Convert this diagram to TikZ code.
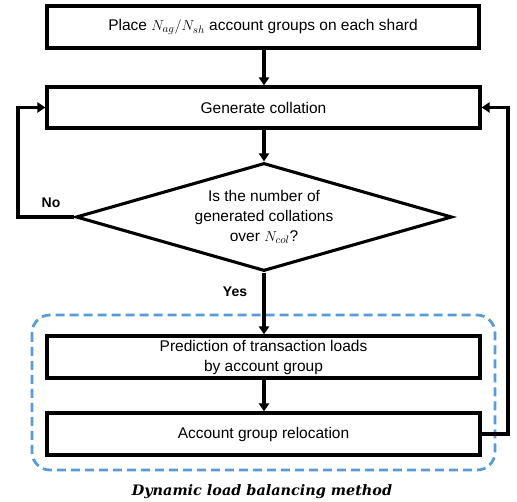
\documentclass[tikz,border=0pt]{standalone}
\usepackage{fontspec}
\setmainfont{Liberation Sans}
\newfontfamily\capfont{DejaVu Serif}
\usetikzlibrary{arrows.meta,shapes.geometric}
\definecolor{dashblue}{HTML}{5B9BD5}
\tikzset{
  box/.style={draw, line width=3.1pt, rectangle, minimum width=433pt, minimum height=42pt, inner sep=0pt, align=center, font=\fontsize{15.5}{20}\selectfont},
  decision/.style={draw, line width=3.1pt, diamond, aspect=3.4815, minimum width=376pt, minimum height=108pt, inner sep=0pt, align=center, font=\fontsize{15.5}{20}\selectfont},
  conn/.style={line width=3.1pt, -{Triangle[length=8pt,width=10pt]}},
  lbl/.style={font=\bfseries\fontsize{14}{16}\selectfont, inner sep=0pt},
  group/.style={draw=dashblue, line width=2.8pt, dash pattern=on 9pt off 5pt, rounded corners=18pt}
}
\begin{document}
\begin{tikzpicture}[x=1pt,y=-1pt]
\useasboundingbox (0,0) rectangle (517,502);
\draw[group] (32,315) rectangle (495,470);
\node[box, minimum width=432pt] (top) at (263,27) {Place $N_{ag}/N_{sh}$ account groups on each shard};
\node[box, minimum height=41pt] (gen) at (263.5,107.5) {Generate collation};
\node[decision] (dec) at (264,217) {Is the number of\\generated collations\\over $N_{col}$?};
\node[box] (pred) at (263.5,357) {Prediction of transaction loads\\by account group};
\node[box] (reloc) at (263.5,434) {Account group relocation};
\coordinate (lc) at (18,217);
\coordinate (rc) at (508,434);
\draw[conn] (top.south -| dec.north) -- (gen.north -| dec.north) ;
\draw[conn] (gen.south -| dec.north) -- (dec.north);
\draw[conn] (dec.south) -- (pred.north -| dec.south);
\draw[conn] (pred.south -| dec.south) -- (reloc.north -| dec.south);
\draw[conn] (dec.west) -- (lc) |- (gen.west);
\draw[conn] (reloc.east) -- (rc) |- (gen.east);
\node[lbl] (no) at (51,203) {No};
\node[lbl] (yes) at (235,292) {Yes};
\node[inner sep=0pt, font=\capfont\bfseries\itshape\fontsize{14.4}{16}\selectfont] (cap) at (262,492) {Dynamic load balancing method};
\end{tikzpicture}
\end{document}
